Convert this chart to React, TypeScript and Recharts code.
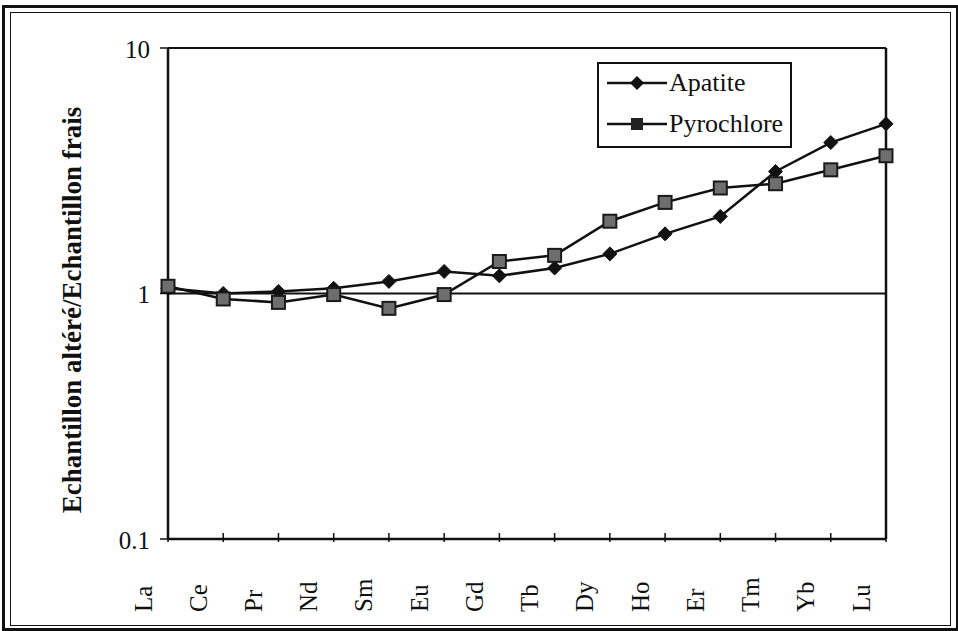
import React from 'react';
import { LineChart, Line, XAxis, YAxis, ReferenceLine, Legend } from 'recharts';

const elements = ['La', 'Ce', 'Pr', 'Nd', 'Sm', 'Eu', 'Gd', 'Tb', 'Dy', 'Ho', 'Er', 'Tm', 'Yb', 'Lu'];
const apatite = [1.05, 1.0, 1.02, 1.05, 1.12, 1.23, 1.18, 1.27, 1.45, 1.75, 2.06, 3.14, 4.12, 4.91];
const pyrochlore = [1.07, 0.95, 0.92, 0.99, 0.87, 0.99, 1.35, 1.43, 1.97, 2.35, 2.69, 2.8, 3.19, 3.64];
const yTicks = [0.1, 1, 10];
const yTickLabels = ['0.1', '1', '10'];
const seriesNames = ['Apatite', 'Pyrochlore'];
const yLabel = 'Echantillon altéré/Echantillon frais';

const data = elements.map((el, i) => ({ el, apatite: apatite[i], pyrochlore: pyrochlore[i] }));

const FONT = "'Liberation Serif', 'Times New Roman', serif";

const Diamond = (props: any) => {
  const { cx, cy, index } = props;
  if (cx == null || cy == null) return null;
  const r = 7;
  return (
    <polygon
      key={`a-${index}`}
      points={`${cx},${cy - r} ${cx + r},${cy} ${cx},${cy + r} ${cx - r},${cy}`}
      fill="#111"
      stroke="#111"
      strokeWidth={1}
    />
  );
};

const Square = (props: any) => {
  const { cx, cy, index } = props;
  if (cx == null || cy == null) return null;
  const s = 13;
  return (
    <rect
      key={`p-${index}`}
      x={cx - s / 2}
      y={cy - s / 2}
      width={s}
      height={s}
      fill="#6e6e6e"
      stroke="#1a1a1a"
      strokeWidth={2}
    />
  );
};

const XTick = (props: any) => {
  const { x, y, payload } = props;
  const tx = x - 25;
  const ty = y + 73;
  return (
    <g>
      <line x1={x} y1={y - 6} x2={x} y2={y + 3} stroke="#111" strokeWidth={1.5} />
      <text
        x={tx}
        y={ty}
        transform={`rotate(-90, ${tx}, ${ty})`}
        textAnchor="start"
        dominantBaseline="central"
        fontFamily={FONT}
        fontSize={25}
        fill="#111"
      >
        {payload.value}
      </text>
    </g>
  );
};

const YTick = (props: any) => {
  const { x, y, payload, index } = props;
  const label = yTickLabels[yTicks.indexOf(payload.value)] ?? String(payload.value);
  return (
    <g key={`yt-${index}`}>
      <line x1={x - 8} y1={y} x2={x + 6} y2={y} stroke="#111" strokeWidth={1.5} />
      <text x={x - 18} y={y + 1} textAnchor="end" dominantBaseline="central" fontFamily={FONT} fontSize={25} fill="#111">
        {label}
      </text>
    </g>
  );
};

const YLabel = () => (
  <text
    x={72}
    y={310}
    transform="rotate(-90, 72, 310)"
    textAnchor="middle"
    dominantBaseline="central"
    fontFamily={FONT}
    fontSize={27}
    fontWeight="bold"
    fill="#111"
  >
    {yLabel}
  </text>
);

const LegendBox = () => (
  <div
    style={{
      width: 191,
      height: 82,
      border: '2px solid #111',
      background: '#fff',
      fontFamily: FONT,
      fontSize: 26,
      color: '#111',
      boxSizing: 'content-box',
    }}
  >
    {seriesNames.map((name, i) => (
      <div key={name} style={{ position: 'relative', height: 41 }}>
        <svg width={70} height={41} style={{ position: 'absolute', left: 6, top: 0 }}>
          <line x1={2} y1={19} x2={62} y2={19} stroke="#111" strokeWidth={2.5} />
          {i === 0 ? (
            <polygon points="32,12 39,19 32,26 25,19" fill="#111" />
          ) : (
            <rect x={26} y={13} width={12} height={12} fill="#222" />
          )}
        </svg>
        <span style={{ position: 'absolute', left: 70, top: 19, transform: 'translateY(-50%)', lineHeight: 1, whiteSpace: 'nowrap' }}>
          {name}
        </span>
      </div>
    ))}
  </div>
);

export default function App() {
  return (
    <div style={{ position: 'absolute', left: 0, top: 0, width: 958, height: 631, background: '#fff' }}>
      <div style={{ position: 'absolute', left: 2, top: 5, width: 951, height: 620, border: '3px solid #111' }} />
      <div style={{ position: 'absolute', left: 10, top: 12, width: 939, height: 612, border: '1px solid #111' }} />
      <div style={{ position: 'absolute', left: 0, top: 0 }}>
        <LineChart width={958} height={631} data={data} margin={{ top: 48, right: 72, bottom: 32, left: 68 }}>
          <XAxis
            dataKey="el"
            interval={0}
            height={60}
            tickSize={0}
            tickMargin={0}
            tick={<XTick />}
            axisLine={{ stroke: '#111', strokeWidth: 2.5 }}
            tickLine={false}
          />
          <YAxis
            scale="log"
            domain={[0.1, 10]}
            ticks={yTicks}
            allowDataOverflow
            width={100}
            tickSize={0}
            tickMargin={0}
            tick={<YTick />}
            axisLine={{ stroke: '#111', strokeWidth: 2.5 }}
            tickLine={false}
            label={<YLabel />}
          />
          <ReferenceLine y={1} stroke="#111" strokeWidth={2} />
          <ReferenceLine y={10} stroke="#111" strokeWidth={2} />
          <ReferenceLine x="Lu" stroke="#111" strokeWidth={2.5} />
          <Legend
            layout="horizontal"
            verticalAlign="middle"
            align="center"
            content={<LegendBox />}
            wrapperStyle={{ position: 'absolute', left: 597, top: 62, width: 195, height: 86 }}
          />
          <Line
            type="linear"
            dataKey="apatite"
            name={seriesNames[0]}
            stroke="#111"
            strokeWidth={2.5}
            dot={Diamond}
            isAnimationActive={false}
          />
          <Line
            type="linear"
            dataKey="pyrochlore"
            name={seriesNames[1]}
            stroke="#111"
            strokeWidth={2.5}
            dot={Square}
            isAnimationActive={false}
          />
        </LineChart>
      </div>
    </div>
  );
}
